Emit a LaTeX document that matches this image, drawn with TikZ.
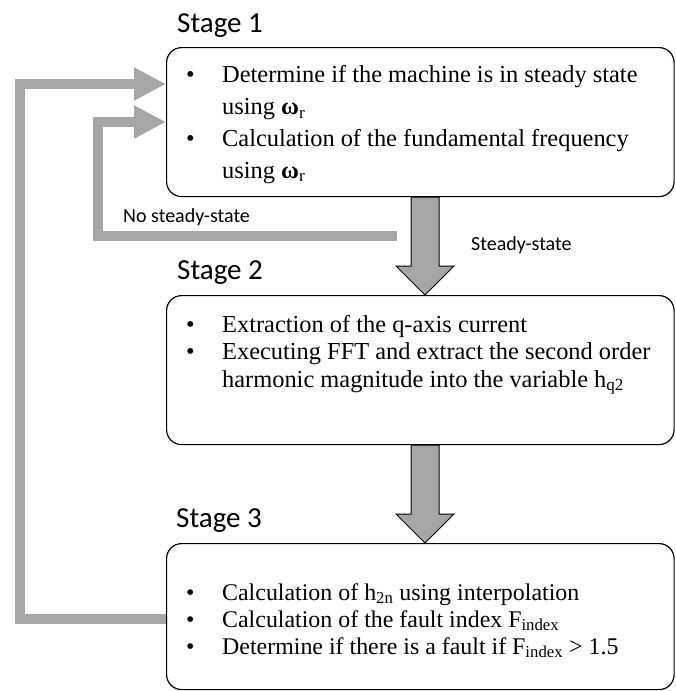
\documentclass[tikz,border=0pt]{standalone}
\usepackage{fontspec}
\setmainfont{Liberation Serif}
\newfontfamily\stagefont{Carlito}
\usetikzlibrary{arrows.meta,calc}
\definecolor{arrowgray}{HTML}{A6A6A6}

% big block arrow pointing down, from #1 (top middle) to #2 (tip)
\newcommand{\downblock}[2]{%
  \draw[bigarrow] let \p1=(#1), \p2=(#2) in
    (\x1-14pt,\y1) -- (\x1-14pt,\y2+29pt) -- (\x1-29pt,\y2+29pt) -- (\x2,\y2)
    -- (\x1+29pt,\y2+29pt) -- (\x1+14pt,\y2+29pt) -- (\x1+14pt,\y1) -- cycle;}

\begin{document}
\begin{tikzpicture}[x=1pt,y=-1pt,
    stagebox/.style={draw,rounded corners=15pt,line width=1.2pt,minimum width=507.5pt,
      minimum height=149pt,anchor=north west,inner sep=0pt},
    stagetitle/.style={anchor=base west,inner sep=0pt,font=\stagefont\fontsize{29}{31}\selectfont},
    itemtext/.style={anchor=base west,inner sep=0pt,align=left},
    note/.style={anchor=base west,inner sep=0pt,font=\stagefont\fontsize{20}{22}\selectfont},
    loop/.style={draw=arrowgray,line width=10pt,line join=miter,-{Triangle[width=31pt,length=32pt]}},
    bigarrow/.style={fill=arrowgray,draw=black,line width=1pt,line join=miter}]
  \useasboundingbox (0,0) rectangle (675,691);

  % stages
  \node[stagebox] (box1) at (166,47) {};
  \node[stagebox] (box2) at (166,295) {};
  \node[stagebox,minimum height=146pt] (box3) at (166,543) {};

  \node[stagetitle] (title1) at (177,32) {Stage 1};
  \node[stagetitle] (title2) at (177,279) {Stage 2};
  \node[stagetitle] (title3) at (176,527) {Stage 3};

  % item lists, placed by the baseline of their last line
  \node[itemtext,font=\fontsize{24.4}{31.7}\selectfont] (items1) at (186,178)
    {\makebox[36pt][l]{\textbullet}Determine if the machine is in steady state\\
     \hspace*{36pt}using {\bfseries ω}\textsubscript{r}\\
     \makebox[36pt][l]{\textbullet}Calculation of the fundamental frequency\\
     \hspace*{36pt}using {\bfseries ω}\textsubscript{r}};
  \node[itemtext,font=\fontsize{24.4}{27.5}\selectfont] (items2) at (186,387)
    {\makebox[36pt][l]{\textbullet}Extraction of the q-axis current\\
     \makebox[36pt][l]{\textbullet}Executing FFT and extract the second order\\
     \hspace*{36pt}harmonic magnitude into the variable h\textsubscript{q2}};
  \node[itemtext,font=\fontsize{23.9}{27}\selectfont] (items3) at (186,654)
    {\makebox[36pt][l]{\textbullet}Calculation of h\textsubscript{2n} using interpolation\\
     \makebox[36pt][l]{\textbullet}Calculation of the fault index F\textsubscript{index}\\
     \makebox[36pt][l]{\textbullet}Determine if there is a fault if F\textsubscript{index} > 1.5};

  % forward arrows
  \coordinate (d1top) at ($(box1.south west)+(259,0)$);
  \coordinate (d1tip) at ($(box2.north west)+(259,0)$);
  \coordinate (d2top) at ($(box2.south west)+(259,0)$);
  \coordinate (d2tip) at ($(box3.north west)+(259,0)$);
  \downblock{d1top}{d1tip}
  \downblock{d2top}{d2tip}
  \node[note] (yes) at (471,250) {Steady-state};

  % feedback arrows
  \coordinate (nosteady) at (397,236);
  \draw[loop] (nosteady) -| ($(box1.north west)+(-68,75)$) -- ($(box1.north west)+(0,75)$);
  \draw[loop] ($(box3.north west)+(0,76)$) -- ++(-146,0) |- ($(box1.north west)+(0,37)$);
  \node[note] (no) at (123,222) {No steady-state};
\end{tikzpicture}
\end{document}
